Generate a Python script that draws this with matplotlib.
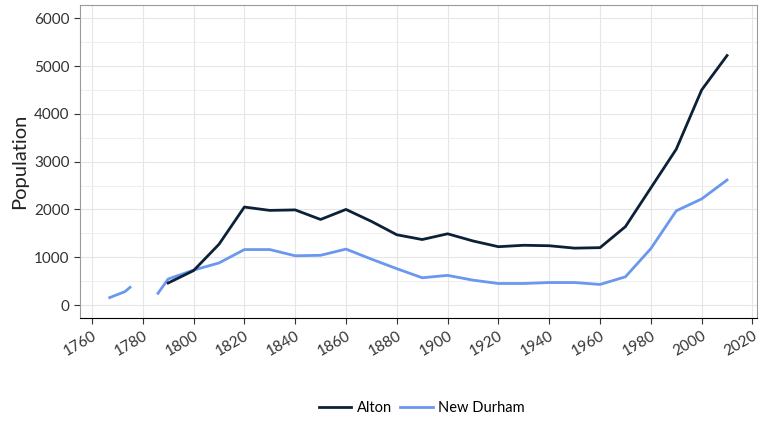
import numpy as np
import matplotlib
matplotlib.use("Agg")
import matplotlib.pyplot as plt
from matplotlib.ticker import MultipleLocator

# census years / population
alton_years = [1790, 1800, 1810, 1820, 1830, 1840, 1850, 1860, 1870, 1880, 1890,
               1900, 1910, 1920, 1930, 1940, 1950, 1960, 1970, 1980, 1990, 2000, 2010]
alton_pop = [460, 720, 1270, 2050, 1980, 1990, 1790, 2000, 1750, 1470, 1370,
             1490, 1340, 1220, 1250, 1240, 1190, 1200, 1640, 2450, 3260, 4500, 5220]

nd_years_early = [1767, 1773, 1775]
nd_pop_early = [155, 280, 370]
nd_years = [1786, 1790, 1800, 1810, 1820, 1830, 1840, 1850, 1860, 1870, 1880, 1890,
            1900, 1910, 1920, 1930, 1940, 1950, 1960, 1970, 1980, 1990, 2000, 2010]
nd_pop = [245, 544, 730, 880, 1160, 1160, 1030, 1040, 1170, 960, 760, 570,
          620, 520, 450, 450, 470, 470, 430, 590, 1180, 1970, 2220, 2615]

plt.rcParams['font.family'] = ['Lato', 'DejaVu Sans']

fig = plt.figure(figsize=(7.67, 4.24), dpi=100)
ax = fig.add_axes([0.1043, 0.25, 0.8827, 0.738])

c_alton = '#0c2138'
c_nd = '#6a98ee'
ax.plot(alton_years, alton_pop, color=c_alton, lw=2.0, label='Alton', zorder=3)
ax.plot(nd_years_early, nd_pop_early, color=c_nd, lw=2.0, zorder=2)
ax.plot(nd_years, nd_pop, color=c_nd, lw=2.0, label='New Durham', zorder=2)

ax.set_xlim(1755.3, 2021.8)
ax.set_ylim(-272, 6276)
ax.xaxis.set_major_locator(MultipleLocator(20))
ax.yaxis.set_major_locator(MultipleLocator(1000))
ax.yaxis.set_minor_locator(MultipleLocator(500))
ax.grid(which='major', color='#e6e6e6', lw=0.8)
ax.grid(which='minor', axis='y', color='#efefef', lw=0.7)
ax.set_axisbelow(True)

for s in ['top', 'right', 'left']:
    ax.spines[s].set_color('#9a9a9a')
ax.spines['bottom'].set_color('black')
ax.tick_params(axis='both', which='major', length=4, color='#333333',
               labelsize=11, labelcolor='#333333')
ax.tick_params(axis='y', which='minor', length=0)
plt.setp(ax.get_xticklabels(), rotation=30, ha='right', rotation_mode='anchor')
ax.set_ylabel('Population', fontsize=14.5, color='#222222', labelpad=4)

fig.legend(loc='lower center', bbox_to_anchor=(0.55, -0.01), ncol=2, frameon=False,
           fontsize=10.5, handlelength=2.2, columnspacing=0.6, handletextpad=0.4)

fig.savefig('out.png', dpi=100)
